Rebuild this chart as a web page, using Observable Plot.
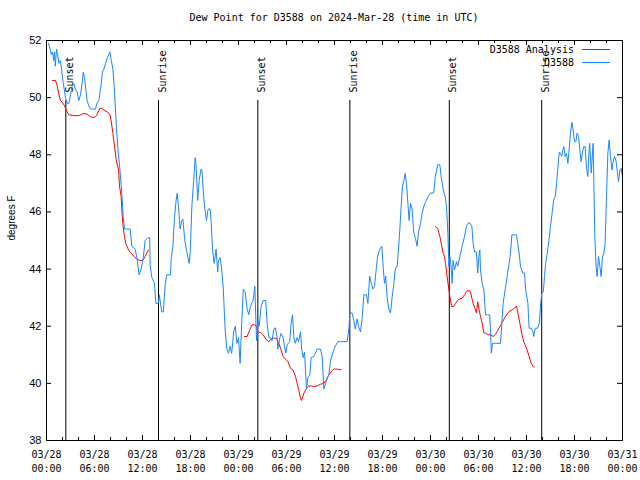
<!DOCTYPE html>
<html>
<head>
<meta charset="utf-8">
<script src="https://cdn.jsdelivr.net/npm/d3@7"></script>
<script src="https://cdn.jsdelivr.net/npm/@observablehq/plot@0.6"></script>
<style>
  html, body { margin: 0; padding: 0; background: #fff; }
  #wrap { position: relative; width: 640px; height: 480px; }
  #title { position: absolute; top: 12px; left: 46px; width: 576px; text-align: center;
           font-family: "DejaVu Sans Mono", monospace; font-size: 10px; line-height: 12px; color: #000; }
</style>
</head>
<body>
<div id="wrap"><div id="title">Dew Point for D3588 on 2024-Mar-28 (time in UTC)</div></div>
<script>
// ---- data ----
const startTime = "2024-03-28T00:00Z";
const endTime = "2024-03-31T00:00Z";
const seriesNames = ["D3588 Analysis", "D3588"];
const seriesColors = ["#ff0000", "#1a86ff"];
const yLabel = "degrees F";
const yTicks = [38, 40, 42, 44, 46, 48, 50, 52];

// observations (hours after start, degrees F)
const obsHours = [0.25,0.45,0.6,0.75,0.9,1.0,1.1,1.25,1.4,1.55,1.75,1.96,2.1,2.375,2.6,2.8,3.0,3.2,3.4,3.6,3.83,4.04,4.25,4.45,4.6,4.75,5.08,5.3,5.5,5.8,6.125,6.3,6.54,6.8,7.0,7.17,7.4,7.6,7.8,7.92,8.1,8.3,8.5,8.75,8.96,9.17,9.4,9.6,9.75,10.04,10.46,10.67,11.08,11.3,11.58,11.83,12.1,12.33,12.67,12.9,12.96,13.17,13.5,13.67,14.0,14.1,14.4,14.6,14.83,15.04,15.5,15.6,15.8,16.0,16.2,16.33,16.5,16.7,16.9,17.05,17.25,17.4,17.7,17.83,17.96,18.17,18.4,18.58,18.7,18.9,19.08,19.33,19.45,19.6,19.8,20.0,20.2,20.45,20.6,20.75,20.96,21.2,21.4,21.5,21.7,21.9,22.1,22.33,22.54,22.75,22.96,23.15,23.4,23.6,23.8,24.0,24.2,24.4,24.6,24.83,25.08,25.29,25.5,25.83,26.04,26.25,26.42,26.58,26.83,27.08,27.4,27.58,27.8,28.0,28.2,28.42,28.6,28.83,28.92,29.17,29.33,29.58,29.75,29.92,30.08,30.4,30.58,30.75,30.92,31.1,31.3,31.5,31.75,31.9,32.08,32.25,32.5,32.67,32.92,33.08,33.42,33.63,33.83,34.25,34.46,34.67,34.875,35.1,35.3,35.5,35.83,36.1,36.42,36.75,37.58,37.8,37.92,38.2,38.42,38.6,38.83,39.0,39.25,39.46,39.67,40.0,40.17,40.4,40.6,40.8,41.0,41.25,41.4,41.67,41.92,42.1,42.25,42.4,42.58,42.8,43.0,43.2,43.42,43.6,43.83,44.0,44.17,44.33,44.5,44.67,44.83,45.0,45.2,45.33,45.5,45.7,45.9,46.1,46.33,46.5,46.75,46.96,47.17,47.4,47.7,48.0,48.4,48.6,48.9,49.17,49.33,49.6,49.83,50.0,50.17,50.3,50.42,50.58,50.7,50.83,51.0,51.25,51.4,51.67,51.96,52.25,52.5,52.67,52.9,53.17,53.33,53.5,53.75,53.9,54.04,54.17,54.25,54.46,54.67,54.875,55.1,55.4,55.5,55.6,55.75,56.0,56.75,56.9,57.08,57.33,57.58,57.83,58.0,58.17,58.42,58.75,58.9,59.08,59.25,59.5,59.75,59.9,60.17,60.33,60.58,60.83,60.9,61.1,61.4,61.6,61.75,61.9,62.1,62.25,62.4,62.6,62.8,63.0,63.2,63.4,63.6,63.75,63.9,64.1,64.25,64.4,64.54,64.67,64.83,65.0,65.17,65.33,65.5,65.67,65.83,66.0,66.17,66.33,66.5,66.67,66.83,67.0,67.17,67.33,67.5,67.67,67.8,67.9,68.1,68.25,68.33,68.42,68.54,68.7,68.83,69.0,69.17,69.33,69.5,69.67,69.83,70.0,70.17,70.33,70.5,70.67,70.83,71.0,71.17,71.33,71.5,71.67,71.83,71.95];
const obsDewF = [51.9,51.7,51.5,51.6,51.3,51.6,51.1,51.7,51.5,51.2,51.3,50.8,50.5,50.0,49.8,49.8,50.1,50.4,50.5,50.3,50.2,49.9,50.1,50.5,50.9,50.7,49.9,49.7,49.6,49.6,49.6,49.8,49.9,50.4,50.9,51.0,51.2,51.4,51.5,51.6,51.3,51.0,50.2,48.9,48.1,47.5,46.7,45.8,45.4,45.4,45.4,44.8,44.7,44.4,43.8,44.0,44.4,45.0,45.1,45.1,44.1,43.7,43.5,42.8,42.8,43.1,42.5,42.5,43.45,43.8,43.8,44.4,44.8,45.8,46.4,46.65,46.2,45.4,45.7,45.75,45.1,44.8,44.4,44.2,44.55,46.2,47.1,47.9,47.6,46.4,47.1,47.5,47.4,46.7,46.1,45.7,46.1,46.1,45.6,44.7,44.2,44.7,43.9,44.3,44.4,44.0,43.3,41.9,41.2,41.05,41.3,41.05,41.8,42.0,41.4,41.6,40.7,42.1,43.3,43.2,42.6,42.4,42.7,42.9,43.4,41.5,42.2,42.0,42.7,42.9,42.9,42.1,41.6,41.6,41.5,41.9,41.95,41.6,41.2,41.6,41.75,41.6,41.3,41.06,41.35,41.46,42.1,42.4,41.6,41.4,41.6,41.46,41.8,41.2,40.9,41.1,39.8,40.2,40.3,40.9,40.95,41.06,41.2,41.2,40.95,39.8,40.0,40.2,40.3,40.8,41.1,41.3,41.46,41.46,41.46,41.9,42.46,42.46,42.2,41.9,42.25,42.0,41.8,42.3,43.1,43.1,42.8,43.75,43.5,43.3,43.4,44.1,44.45,44.7,44.8,44.0,43.5,43.75,43.0,42.6,42.46,43.0,43.5,44.0,44.1,44.7,45.4,46.2,46.9,47.1,47.35,47.0,46.2,45.7,46.3,46.1,45.3,45.1,44.8,45.3,45.6,45.96,46.2,46.36,46.54,46.66,46.66,47.24,47.65,47.65,47.24,46.77,46.54,46.2,45.26,44.1,44.44,44.1,43.5,44.3,43.97,44.26,44.1,44.44,44.8,45.14,45.5,45.6,45.62,45.5,44.9,44.6,44.6,43.86,44.44,44.67,43.97,43.5,43.27,42.4,42.4,42.4,41.87,41.06,41.4,41.4,41.4,42.0,42.8,43.27,43.74,44.2,44.56,45.2,45.2,45.2,44.9,44.56,44.1,43.86,43.86,43.27,42.8,41.93,41.93,41.8,41.64,41.93,41.93,42.1,42.7,43.15,43.2,43.74,44.2,44.56,45.0,45.5,45.96,46.42,46.54,47.0,47.47,48.1,48.05,47.94,48.17,48.29,47.94,48.05,47.7,48.17,48.76,49.13,48.87,48.46,48.46,48.76,48.64,48.17,47.76,48.1,48.29,48.29,47.53,47.24,48.06,48.4,47.36,48.1,48.4,46.99,45.14,44.1,43.74,44.44,44.1,43.74,44.44,44.56,44.9,46.54,48.06,48.52,47.94,47.47,47.76,47.94,47.82,47.47,47.06,47.47,47.53,47.3];

// analysis (hours after start, degrees F)
const anaHours = [0.75,1.125,1.33,1.54,1.75,1.96,2.25,2.5,2.79,3.42,4.04,4.25,4.67,5.08,5.5,5.92,6.25,6.54,6.75,7.17,7.58,7.92,8.1,8.3,8.5,8.7,9.0,9.125,9.33,9.42,9.5,9.625,9.75,9.9,10.25,10.58,10.875,11.3,11.7,12.0,12.33,12.54,12.75,
  24.75,25.08,25.4,25.7,26.0,26.25,26.4,26.75,27.08,27.5,27.8,28.08,28.4,28.75,29.04,29.25,29.58,29.875,30.17,30.5,30.83,31.125,31.33,31.54,31.75,31.875,32.17,32.5,32.79,33.08,33.42,33.83,34.25,34.67,35.0,35.3,35.58,35.92,36.33,36.83,
  48.625,48.9,49.17,49.375,49.58,49.75,49.875,50.08,50.3,50.5,50.625,50.9,51.125,51.54,51.96,52.25,52.58,52.9,53.08,53.33,53.54,53.75,53.9,54.08,54.25,54.46,54.67,54.875,55.17,55.5,55.83,56.125,56.33,56.67,56.96,57.25,57.5,57.8,58.2,58.5,58.75,58.9,59.17,59.4,59.67,59.83,60.08,60.33,60.58,60.83,61.0];
const anaDewF = [50.6,50.6,50.42,50.13,49.9,49.84,49.72,49.55,49.4,49.37,49.37,49.4,49.45,49.42,49.33,49.3,49.37,49.55,49.64,49.57,49.5,49.42,49.15,48.75,48.3,47.85,47.47,46.9,46.54,46.07,45.72,45.37,45.14,44.9,44.67,44.56,44.46,44.35,44.3,44.3,44.44,44.56,44.67,
  41.64,41.64,41.87,42.05,42.05,42.0,41.8,41.78,41.7,41.52,41.46,41.55,41.58,41.58,41.4,41.23,40.94,40.85,40.76,40.53,40.47,40.24,40.0,39.77,39.47,39.4,39.65,39.83,39.91,39.91,39.89,39.91,39.97,40.0,40.12,40.3,40.41,40.5,40.5,40.47,
  45.49,45.43,45.14,44.85,44.56,44.44,44.2,43.74,43.27,42.92,42.69,42.69,42.8,42.95,42.98,43.1,43.24,43.25,43.1,42.8,42.63,42.46,42.86,42.57,42.34,42.1,41.76,41.76,41.7,41.7,41.64,41.72,41.81,41.99,42.13,42.28,42.4,42.51,42.57,42.63,42.71,42.51,42.1,41.76,41.43,41.35,41.17,40.94,40.71,40.59,40.57];
const anaSegment = anaHours.map(h => h < 20 ? 1 : h < 44 ? 2 : 3);

// sunrise / sunset events (UTC)
const eventTimes = ["2024-03-28T02:25Z","2024-03-28T14:00Z","2024-03-29T02:25Z","2024-03-29T13:55Z","2024-03-30T02:21Z","2024-03-30T13:54Z"];
const eventLabels = ["Sunset","Sunrise","Sunset","Sunrise","Sunset","Sunrise"];

// ---- build ----
const t0 = new Date(startTime).getTime();
const hToDate = h => new Date(t0 + h * 3600e3);
const obs = obsHours.map((h, i) => ({time: hToDate(h), value: obsDewF[i]}));
const ana = anaHours.map((h, i) => ({time: hToDate(h), value: anaDewF[i], seg: anaSegment[i]}));
const events = eventTimes.map((t, i) => ({time: new Date(t), label: eventLabels[i]}));

const majorTicks = d3.utcHour.every(6).range(new Date(startTime), new Date(new Date(endTime).getTime() + 1));
const minorTicks = d3.utcHour.every(2).range(new Date(startTime), new Date(endTime)).filter(d => d.getUTCHours() % 6 !== 0);

const W = 640, H = 480, mL = 46, mR = 18, mT = 40, mB = 40;
const plotW = W - mL - mR, plotH = H - mT - mB;
const majorLen = 5, minorLen = 3;
const mono = "DejaVu Sans Mono";
const sans = "Liberation Sans";
const fmt = d3.utcFormat("%m/%d\n%H:%M");

function legendMark(index, scales, values, dims) {
  const g = d3.create("svg:g").attr("font-family", mono).attr("font-size", 10);
  const right = dims.width - dims.marginRight;
  seriesNames.forEach((name, i) => {
    const y = dims.marginTop + 9.5 + i * 13;
    g.append("text").attr("x", right - 48).attr("y", y + 0.7).attr("dy", "0.32em")
      .attr("text-anchor", "end").attr("fill", "#000").text(name);
    g.append("line").attr("x1", right - 40).attr("x2", right - 12)
      .attr("y1", y).attr("y2", y)
      .attr("stroke", seriesColors[i]).style("stroke", seriesColors[i])
      .attr("stroke-width", 1).attr("shape-rendering", "crispEdges");
  });
  return g.node();
}

const chart = Plot.plot({
  width: W, height: H,
  marginLeft: mL, marginRight: mR, marginTop: mT, marginBottom: mB,
  style: {fontFamily: mono, fontSize: "10px", background: "#fff", color: "#000"},
  x: {type: "utc", domain: [new Date(startTime), new Date(endTime)], axis: null},
  y: {domain: [38, 52], axis: null},
  marks: [
    // sunrise/sunset lines
    Plot.ruleX(events, {x: "time", stroke: "#000", strokeWidth: 1, insetTop: plotH * 0.15}),
    Plot.text(events, {x: "time", text: "label", frameAnchor: "top", dy: plotH * 0.15 - 8,
      rotate: -90, textAnchor: "start", fontFamily: mono, fontSize: 10, fill: "#000"}),
    // series
    Plot.line(ana, {x: "time", y: "value", z: "seg", stroke: seriesColors[0], strokeWidth: 1}),
    Plot.line(obs, {x: "time", y: "value", stroke: seriesColors[1], strokeWidth: 1}),
    // frame
    Plot.frame({stroke: "#000", strokeWidth: 1}),
    // ticks (inward, mirrored)
    Plot.ruleY(yTicks, {y: d => d, stroke: "#000", insetRight: plotW - majorLen}),
    Plot.ruleY(yTicks, {y: d => d, stroke: "#000", insetLeft: plotW - majorLen}),
    Plot.ruleX(majorTicks, {x: d => d, stroke: "#000", insetTop: plotH - majorLen}),
    Plot.ruleX(majorTicks, {x: d => d, stroke: "#000", insetBottom: plotH - majorLen}),
    Plot.ruleX(minorTicks, {x: d => d, stroke: "#000", insetTop: plotH - minorLen}),
    Plot.ruleX(minorTicks, {x: d => d, stroke: "#000", insetBottom: plotH - minorLen}),
    // tick labels
    Plot.text(yTicks, {y: d => d, text: d => String(d), frameAnchor: "left", dx: -5,
      textAnchor: "end", fontFamily: sans, fontSize: 11, fill: "#000"}),
    Plot.text(majorTicks, {x: d => d, text: d => fmt(d), frameAnchor: "bottom", dy: 8,
      lineAnchor: "top", lineHeight: 1.4, fontFamily: mono, fontSize: 10, fill: "#000"}),
    Plot.text([yLabel], {text: d => d, frameAnchor: "left", dx: -35, rotate: -90,
      fontFamily: sans, fontSize: 10, fill: "#000"}),
    legendMark
  ]
});
document.getElementById("wrap").prepend(chart);
</script>
</body>
</html>
